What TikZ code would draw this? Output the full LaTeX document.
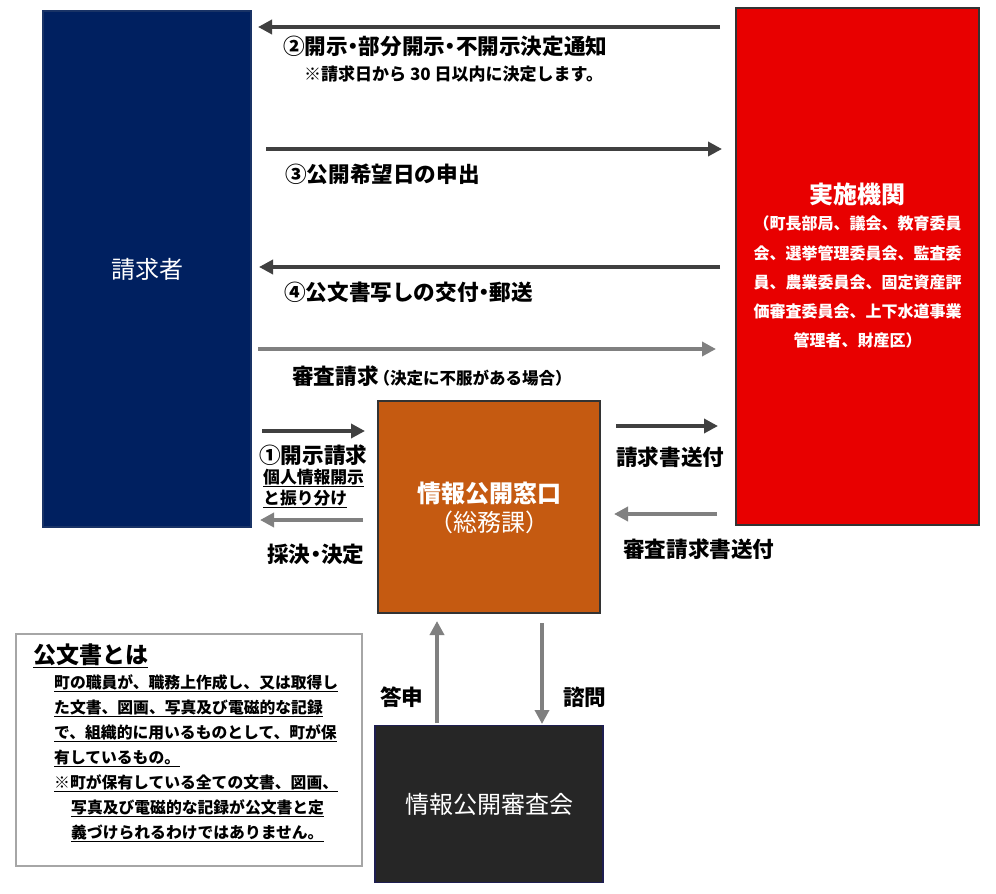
\documentclass[tikz,border=0pt]{standalone}
\usepackage{fontspec}
\setmainfont{Noto Sans CJK JP}
\usetikzlibrary{arrows.meta}
\newcommand\nkg{\kern-0.25em・\kern-0.25em}
\newcommand\kpl{\kern-0.3em（}
\newcommand\kpr{）\kern-0.3em}
\definecolor{navyc}{HTML}{002060}
\definecolor{redc}{HTML}{E80000}
\definecolor{orangec}{HTML}{C55A11}
\definecolor{blackc}{HTML}{262626}
\definecolor{darkc}{HTML}{404040}
\definecolor{grayc}{HTML}{808080}
\definecolor{framec}{HTML}{A6A6A6}
\tikzset{
  lab/.style={anchor=west, inner sep=0pt, font=\fontsize{21.6}{25}\selectfont\bfseries},
  smalllab/.style={anchor=west, inner sep=0pt, font=\fontsize{17}{19}\selectfont\bfseries},
  sublab/.style={anchor=west, inner sep=0pt, font=\fontsize{16.8}{19}\selectfont\bfseries},
  bodylab/.style={anchor=west, inner sep=0pt, font=\fontsize{15.8}{19}\selectfont\bfseries},
  wtxt/.style={inner sep=0pt, text=white},
  darr/.style={line width=4.5pt, draw=darkc, -{Triangle[length=14pt,width=14pt]}},
  garr/.style={line width=4.5pt, draw=grayc, -{Triangle[length=14pt,width=14pt]}},
  bigbox/.style={rectangle, inner sep=0pt, outer sep=0pt, line width=1.2pt}
}
\begin{document}
\begin{tikzpicture}[x=1pt,y=-1pt]
\useasboundingbox (0,0) rectangle (996,894);

% boxes
\node[bigbox, fill=navyc, draw=navyc!80!gray, minimum width=208pt, minimum height=516pt,
      text=white, font=\fontsize{24}{28}\selectfont] (req) at (147,269) {請求者};
\node[bigbox, fill=redc, draw=black!80, minimum width=243pt, minimum height=517pt] (imp) at (857.5,266.5) {};
\node[bigbox, fill=orangec, draw=black!80, minimum width=222pt, minimum height=212pt] (win) at (489,507) {};
\node[bigbox, fill=blackc, draw=blackc!80!blue, minimum width=228pt, minimum height=157pt,
      text=white, font=\fontsize{24}{28}\selectfont] (rev) at (489,804) {情報公開審査会};
\node[rectangle, draw=framec, line width=1.2pt, inner sep=0pt, minimum width=346pt, minimum height=232pt] (doc) at (189,750) {};

% texts in boxes
\node[wtxt, font=\fontsize{24}{28}\selectfont\bfseries] (impt) at (857.5,194) {実施機関};
\node[wtxt, font=\fontsize{16}{19}\selectfont\bfseries] (imp1) at (857.5,223) {（町長部局、議会、教育委員};
\node[wtxt, font=\fontsize{16}{19}\selectfont\bfseries] (imp2) at (857.5,253) {会、選挙管理委員会、監査委};
\node[wtxt, font=\fontsize{16}{19}\selectfont\bfseries] (imp3) at (857.5,282) {員、農業委員会、固定資産評};
\node[wtxt, font=\fontsize{16}{19}\selectfont\bfseries] (imp4) at (857.5,311) {価審査委員会、上下水道事業};
\node[wtxt, font=\fontsize{16}{19}\selectfont\bfseries] (imp5) at (857.5,340) {管理者、財産区）};
\node[wtxt, font=\fontsize{24}{28}\selectfont\bfseries] (wint) at (489,493) {情報公開窓口};
\node[wtxt, font=\fontsize{24}{28}\selectfont] (wins) at (489,522) {\kpl 総務課\kpr};

% arrow end points
\coordinate (a2s) at (720,27);  \coordinate (a2e) at (258,27);
\coordinate (a3s) at (266,149); \coordinate (a3e) at (722,149);
\coordinate (a4s) at (720,267); \coordinate (a4e) at (259,267);
\coordinate (asrs) at (258,349); \coordinate (asre) at (716,349);
\coordinate (a1s) at (262,431); \coordinate (a1e) at (365,431);
\coordinate (ads) at (363,520); \coordinate (ade) at (260,520);
\coordinate (ass) at (616,426); \coordinate (ase) at (718,426);
\coordinate (abs) at (717,514); \coordinate (abe) at (614,514);
\coordinate (ats) at (437,723); \coordinate (ate) at (437,621);
\coordinate (aqs) at (542,623); \coordinate (aqe) at (542,724);

\draw[darr] (a2s) -- (a2e);
\draw[darr] (a3s) -- (a3e);
\draw[darr] (a4s) -- (a4e);
\draw[garr] (asrs) -- (asre);
\draw[darr] (a1s) -- (a1e);
\draw[garr] (ads) -- (ade);
\draw[darr] (ass) -- (ase);
\draw[garr] (abs) -- (abe);
\draw[garr] (ats) -- (ate);
\draw[garr] (aqs) -- (aqe);

% labels
\node[lab] (l2) at (283,46) {②開示\nkg 部分開示\nkg 不開示決定通知};
\node[smalllab] (l2n) at (304,74) {※請求日から\ 30\ 日以内に決定します。};
\node[lab] (l3) at (285,174) {③公開希望日の申出};
\node[lab] (l4) at (284,292) {④公文書写しの交付\nkg 郵送};
\node[lab] (lsr) at (292,376) {審査請求{\fontsize{16.5}{19}\selectfont\kpl 決定に不服がある場合\kpr}};
\node[lab] (l1) at (259,455) {①開示請求};
\node[sublab] (l1a) at (263,478) {\underline{個人情報開示}};
\node[sublab] (l1b) at (263,499) {\underline{と振り分け}};
\node[lab] (ld) at (267,554) {採決\nkg 決定};
\node[lab] (ls) at (616,457) {請求書送付};
\node[lab] (lb) at (623,549) {審査請求書送付};
\node[lab] (lt) at (380,697) {答申};
\node[lab] (lq) at (563,697) {諮問};

% document definition
\node[anchor=west, inner sep=0pt, font=\fontsize{23}{27}\selectfont\bfseries] (dt) at (33,656) {\underline{公文書とは}};
\node[bodylab] (d1) at (54,683) {\underline{町の職員が、職務上作成し、又は取得し}};
\node[bodylab] (d2) at (54,708) {\underline{た文書、図画、写真及び電磁的な記録}};
\node[bodylab] (d3) at (54,733) {\underline{で、組織的に用いるものとして、町が保}};
\node[bodylab] (d4) at (54,758) {\underline{有しているもの。}};
\node[bodylab] (d5) at (54,783) {\underline{※町が保有している全ての文書、図画、}};
\node[bodylab] (d6) at (71,808) {\underline{写真及び電磁的な記録が公文書と定}};
\node[bodylab] (d7) at (71,833) {\underline{義づけられるわけではありません。}};
\end{tikzpicture}
\end{document}
